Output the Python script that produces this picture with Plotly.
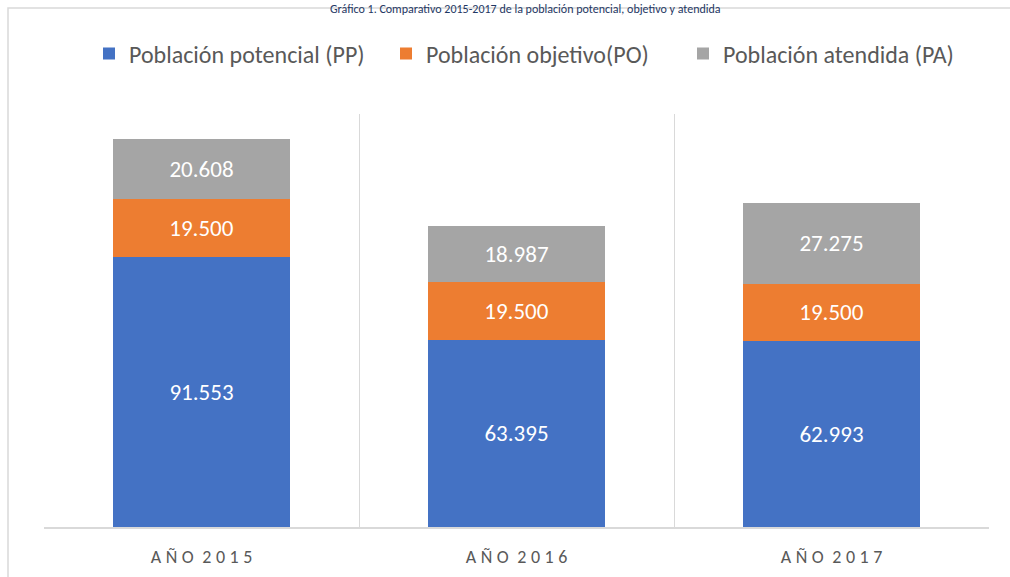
import plotly.graph_objects as go

categories = ["AÑO 2015", "AÑO 2016", "AÑO 2017"]
SP = "\u2005"
tick_labels = [SP.join("AÑO") + SP + " " + SP.join(y) for y in ["2015", "2016", "2017"]]
pp = [91553, 63395, 62993]
po = [19500, 19500, 19500]
pa = [20608, 18987, 27275]
series_names = ["Población potencial (PP)", "Población objetivo(PO)", "Población atendida (PA)"]
colors = ["#4472C4", "#ED7D31", "#A5A5A5"]
title_text = "Gráfico 1. Comparativo 2015-2017 de la población potencial, objetivo y atendida"

FONT = "Carlito, Calibri, Lato, sans-serif"

W, H = 1010, 577
ML, MR, MT, MB = 44, 21, 114, 50
pw = W - ML - MR
ph = H - MT - MB

def px_x(x):
    return (x - ML) / pw

def px_y(y):
    return 1 - (y - MT) / ph

fig = go.Figure()
for name, vals, col in zip(series_names, [pp, po, pa], colors):
    fig.add_trace(go.Bar(
        x=categories, y=vals, name=name,
        marker=dict(color=col, line=dict(width=0)),
        texttemplate="%{y:,.0f}", textposition="inside",
        insidetextanchor="middle", textangle=0, constraintext="none",
        textfont=dict(color="white", size=23, family=FONT),
    ))

fig.update_layout(
    width=W, height=H,
    barmode="stack", bargap=0.44,
    separators=",.",
    plot_bgcolor="white", paper_bgcolor="white",
    margin=dict(l=ML, r=MR, t=MT, b=MB, autoexpand=False),
    font=dict(family=FONT, color="#595959"),
    showlegend=True,
    legend=dict(orientation="h", x=px_x(89), xanchor="left", y=px_y(54), yanchor="middle",
                font=dict(size=24, color="#595959", family=FONT),
                entrywidth=252, entrywidthmode="pixels", traceorder="normal",
                itemclick=False, itemdoubleclick=False),
    xaxis=dict(tickmode="array", tickvals=categories, ticktext=tick_labels,
               tickson="boundaries", showgrid=True, gridcolor="#D9D9D9", gridwidth=1.3,
               showline=True, linecolor="#D9D9D9", linewidth=2, ticks="",
               ticklabelstandoff=12,
               tickfont=dict(size=18, color="#595959", family=FONT)),
    yaxis=dict(range=[0, 140000], showgrid=False, showticklabels=False,
               zeroline=False, showline=False),
    shapes=[dict(type="rect", xref="paper", yref="paper",
                 x0=px_x(8), x1=px_x(1020), y0=px_y(590), y1=px_y(8),
                 line=dict(color="#D9D9D9", width=1.5), fillcolor="rgba(0,0,0,0)",
                 layer="below")],
    annotations=[dict(text=title_text, xref="paper", yref="paper",
                      x=px_x(525), y=px_y(0), xanchor="center", yanchor="top",
                      showarrow=False,
                      font=dict(size=12, color="#1F3864", family=FONT))],
)

fig.write_html("out.html", config={"displayModeBar": False},
               post_script="document.body.style.margin='0';")
